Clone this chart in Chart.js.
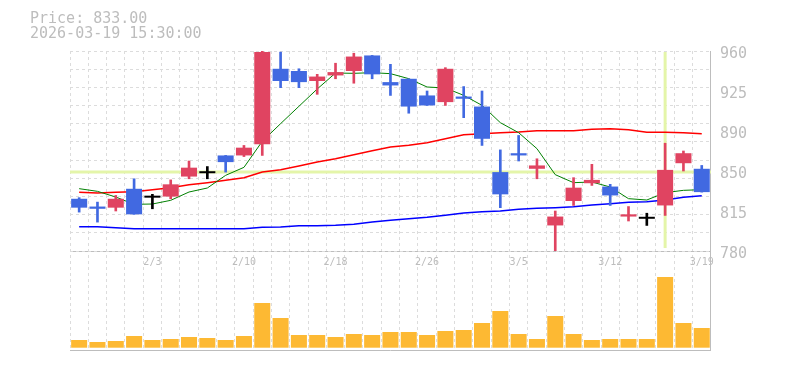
<!DOCTYPE html>
<html>
<head>
<meta charset="utf-8">
<script src="https://cdn.jsdelivr.net/npm/chart.js@4/dist/chart.umd.min.js"></script>
<style>
  html, body { margin: 0; padding: 0; background: #fff; }
  #wrap { position: relative; width: 785px; height: 370px; }
  #c { position: absolute; left: 0; top: 0; }
  .hdr { position: absolute; left: 30px; font-family: "DejaVu Sans Mono", monospace; font-size: 15px; line-height: 15px; color: #bdbdbd; white-space: pre; }
</style>
</head>
<body>
<div id="wrap">
  <canvas id="c" width="785" height="370"></canvas>
  <div class="hdr" id="h1" style="top:11px"></div>
  <div class="hdr" id="h2" style="top:26px"></div>
</div>
<script>
// ---- data ----
const headerPrice = 'Price: 833.00';
const headerTime = '2026-03-19 15:30:00';

const dates = ['1/28','1/29','1/30','2/2','2/3','2/4','2/5','2/6','2/9','2/10','2/12','2/13','2/16','2/17','2/18','2/19','2/20','2/24','2/25','2/26','2/27','3/2','3/3','3/4','3/5','3/6','3/9','3/10','3/11','3/12','3/13','3/16','3/17','3/18','3/19'];
const xTickLabels = ['2/3','2/10','2/18','2/26','3/5','3/12','3/19'];

const openP  = [827,820,819,836,828,829,847,850,866,866,876,944,942,933,938,942,956,932,935,920,914,919,910,851,868,854,803,825,841,838,811,809,821,859,854];
const closeP = [819,818,827,813,828,840,855,850,860,873,959,933,932,937,941,955,939,929,910,911,944,917,881,831,866,857,811,837,844,830,813,809,853,868,833];
const highP  = [828,824,830,845,831,844,861,856,866,875,960,959,944,939,949,958,956,948,935,924,945,928,924,871,884,863,816,846,858,840,820,814,877,870,857];
const lowP   = [815,806,816,813,818,827,845,845,851,865,866,927,927,921,935,931,935,920,904,911,911,900,875,819,861,845,780,821,839,821,807,803,812,852,833];

const ma5  = [836.1,833.7,828.6,822.0,822.3,825.6,833.1,836.7,848.1,855.3,878.7,894.6,910.2,925.8,940.2,939.9,940.5,939.6,935.1,927.6,926.7,920.1,911.1,895.5,886.5,872.1,848.7,841.5,842.1,837.6,827.1,825.9,832.5,834.6,835.2];
const ma25 = [832.8,832.2,832.8,833.4,835.2,837.0,839.7,841.5,843.6,846.0,851.1,853.2,856.5,860.1,863.1,866.7,870.3,873.6,875.1,877.5,881.1,884.7,885.6,886.5,887.1,888.3,888.3,888.3,889.5,890.1,889.2,886.8,886.8,886.5,885.6];
const ma75 = [801.9,801.9,801.0,800.1,800.1,800.1,800.1,800.1,800.1,800.1,801.3,801.6,802.8,802.8,803.1,804.0,806.1,807.6,809.1,810.3,812.1,814.2,815.4,816.0,817.5,818.4,819.0,819.9,821.4,822.6,823.8,824.4,825.9,828.3,829.8];

const volume = [77,57,67,117,77,87,107,97,77,117,447,297,127,127,107,137,127,157,157,127,167,177,247,367,137,87,317,137,77,87,87,87,707,247,197];

const priceTickLabels = ['780','815','850','890','925','960'];
const crossIndex = 32;
const crossPrice = 851;

// ---- styles ----
const UP = '#E04461', DOWN = '#4169E1', DOJI = '#000000';
const GRID = '#dcdcdc', FRAME = '#bdbdbd', TXT = '#bdbdbd';
const MONO = '"DejaVu Sans Mono", monospace';

document.getElementById('h1').textContent = headerPrice;
document.getElementById('h2').textContent = headerTime;

const candleColor = dates.map((d, i) => closeP[i] > openP[i] ? UP : (closeP[i] < openP[i] ? DOWN : DOJI));
const bodies = dates.map((d, i) => [openP[i], closeP[i]]);
const wicks = dates.map((d, i) => [lowP[i], highP[i]]);

const crosshair = {
  id: 'crosshair',
  beforeDatasetsDraw(chart) {
    const {ctx, scales} = chart;
    const x = scales.x, y = scales.y;
    ctx.save();
    ctx.strokeStyle = '#e4f5a9';
    ctx.lineWidth = 3;
    const py = y.getPixelForValue(crossPrice);
    ctx.beginPath();
    ctx.moveTo(chart.chartArea.left, py);
    ctx.lineTo(chart.chartArea.right, py);
    ctx.stroke();
    const px = x.getPixelForValue(crossIndex);
    ctx.beginPath();
    ctx.moveTo(px, y.top + 1);
    ctx.lineTo(px, y.bottom - 3);
    ctx.stroke();
    ctx.restore();
  }
};

new Chart(document.getElementById('c'), {
  type: 'bar',
  data: {
    labels: dates,
    datasets: [
      { type: 'line', label: 'MA75', data: ma75, yAxisID: 'y', borderColor: '#0000ff', borderWidth: 1.5, pointRadius: 0, tension: 0, order: 6 },
      { type: 'line', label: 'MA25', data: ma25, yAxisID: 'y', borderColor: '#ff0000', borderWidth: 1.5, pointRadius: 0, tension: 0, order: 5 },
      { type: 'line', label: 'MA5', data: ma5, yAxisID: 'y', borderColor: '#008000', borderWidth: 1, pointRadius: 0, tension: 0, order: 4 },
      { type: 'bar', label: 'wick', data: wicks, yAxisID: 'y', backgroundColor: candleColor, barThickness: 2, grouped: false, order: 3 },
      { type: 'bar', label: 'body', data: bodies, yAxisID: 'y', backgroundColor: candleColor, barPercentage: 0.875, categoryPercentage: 1, minBarLength: 2, grouped: false, order: 2 },
      { type: 'bar', label: 'volume', data: volume, yAxisID: 'yv', backgroundColor: '#FDB933', barPercentage: 0.875, categoryPercentage: 1, grouped: false, order: 1 }
    ]
  },
  options: {
    responsive: false,
    animation: false,
    devicePixelRatio: 1,
    layout: { padding: { left: 70, top: 51, right: 29, bottom: 20 } },
    plugins: { legend: { display: false }, tooltip: { enabled: false } },
    events: [],
    scales: {
      x: {
        type: 'category', position: 'bottom', offset: true,
        grid: { offset: true, color: GRID, drawTicks: false },
        border: { display: true, color: FRAME, dash: [3, 3] },
        ticks: { display: false }
      },
      xl: {
        type: 'category', axis: 'x', labels: dates, offset: true,
        position: { y: 780 },
        grid: { display: false, drawTicks: false },
        border: { display: false },
        ticks: {
          autoSkip: false, maxRotation: 0, minRotation: 0, padding: 5,
          color: TXT, font: { family: MONO, size: 10 },
          callback: (v, i) => xTickLabels.includes(dates[i]) ? dates[i] : ''
        }
      },
      y: {
        type: 'linear', position: 'right', stack: 'R', stackWeight: 200,
        min: 780, max: 960,
        grid: { display: false, drawTicks: false },
        border: { display: true, color: FRAME },
        ticks: {
          stepSize: 36, padding: 9, autoSkip: false, labelOffset: 3, color: TXT, font: { family: MONO, size: 15 },
          callback: (v, i) => priceTickLabels[i]
        }
      },
      yv: {
        type: 'linear', position: 'right', stack: 'R', stackWeight: 99,
        min: -23, max: 967,
        grid: { display: true, drawTicks: false, color: FRAME },
        border: { display: true, color: FRAME },
        ticks: { display: false },
        afterBuildTicks: (s) => { s.ticks = [{ value: s.max }]; }
      },
      ygv: {
        type: 'linear', axis: 'y', position: 'left', stack: 'L', stackWeight: 99,
        min: 0, max: 1,
        grid: { display: false, drawTicks: false },
        border: { display: false },
        ticks: { display: false }
      },
      yg: {
        type: 'linear', axis: 'y', position: 'left', stack: 'L', stackWeight: 200,
        min: 0, max: 11,
        grid: { display: true, drawTicks: false, color: GRID },
        border: { display: false, dash: [3, 3] },
        ticks: { display: false, stepSize: 1 }
      }
    }
  },
  plugins: [crosshair]
});
</script>
</body>
</html>
